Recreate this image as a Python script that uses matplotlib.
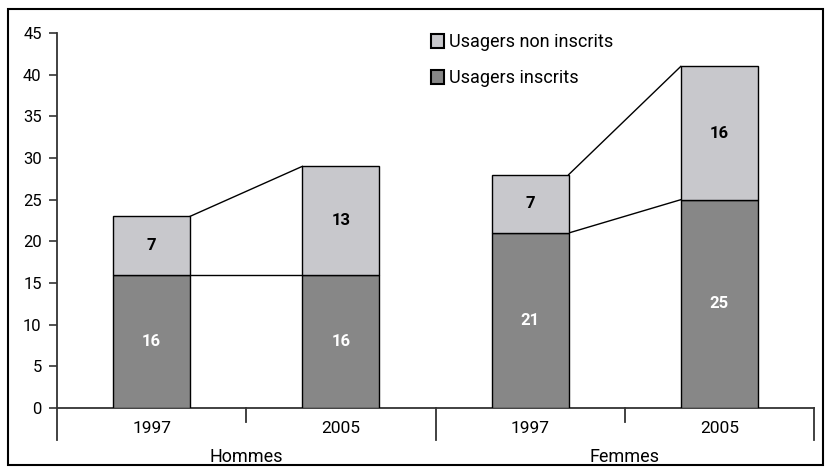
import matplotlib
matplotlib.use("Agg")
import matplotlib.pyplot as plt
from matplotlib.patches import Rectangle
import numpy as np

plt.rcParams['font.family'] = ['Roboto', 'DejaVu Sans']

groups = ["Hommes", "Femmes"]
years = ["1997", "2005", "1997", "2005"]
inscrits = [16, 16, 21, 25]
non_inscrits = [7, 13, 7, 16]
yticks = [0, 5, 10, 15, 20, 25, 30, 35, 40, 45]
legend_labels = ["Usagers non inscrits", "Usagers inscrits"]

dark = "#878787"
light = "#c8c8cc"
axis_col = "#333333"

fig = plt.figure(figsize=(8.31, 4.73), dpi=100)
ax = fig.add_axes([57/831, 1-408/473, (814-57)/831, (408-33)/473])

x = np.arange(len(years)) + 0.5
w = 0.407
ax.bar(x, inscrits, w, color=dark, edgecolor="black", linewidth=1, zorder=3)
ax.bar(x, non_inscrits, w, bottom=inscrits, color=light, edgecolor="black", linewidth=1, zorder=3)

# connector lines between the two years in each group
for g in range(2):
    i, j = 2*g, 2*g+1
    ax.plot([x[i]+w/2, x[j]-w/2], [inscrits[i], inscrits[j]], color="black", lw=1, zorder=2)
    ti = inscrits[i] + non_inscrits[i]
    tj = inscrits[j] + non_inscrits[j]
    ax.plot([x[i]+w/2, x[j]-w/2], [ti, tj], color="black", lw=1, zorder=2)

for xi, a, b in zip(x, inscrits, non_inscrits):
    ax.text(xi, a/2, str(a), ha="center", va="center", color="white", fontsize=12, fontweight="bold", zorder=4)
    ax.text(xi, a + b/2, str(b), ha="center", va="center", color="black", fontsize=12, fontweight="bold", zorder=4)

ax.set_xlim(0, 4)
ax.set_ylim(0, 45)
ax.set_yticks(yticks)
ax.set_yticklabels([str(t) for t in yticks], fontsize=12)
ax.tick_params(axis="y", length=6, width=1.2, color=axis_col, pad=5)
ax.set_xticks([])
for s in ["top", "right"]:
    ax.spines[s].set_visible(False)
for s in ["left", "bottom"]:
    ax.spines[s].set_color(axis_col)
    ax.spines[s].set_linewidth(1.3)

# category ticks below axis
trans = ax.get_xaxis_transform()
def py(pix):
    return -(pix - 408) / 375.0
for xt in [0, 2, 4]:
    ax.plot([xt, xt], [0, py(440)], transform=trans, color=axis_col, lw=1.3, clip_on=False)
for xt in [1, 3]:
    ax.plot([xt, xt], [0, py(422)], transform=trans, color=axis_col, lw=1.3, clip_on=False)
for xi, yr in zip(x, years):
    ax.text(xi, py(428), yr, transform=trans, ha="center", va="center", fontsize=12.5)
for gi, g in enumerate(groups):
    ax.text(1 + 2*gi, py(457), g, transform=trans, ha="center", va="center", fontsize=13)

# legend
fx = lambda p: p/831
fy = lambda p: 1 - p/473
for k, (lab, col) in enumerate(zip(legend_labels, [light, dark])):
    yc = [41, 77][k]
    fig.patches.append(Rectangle((fx(431), fy(yc+7)), 13/831, 14/473, transform=fig.transFigure,
                                 facecolor=col, edgecolor="black", linewidth=1.5))
    fig.text(fx(449), fy(yc+1), lab, ha="left", va="center", fontsize=13)

# figure border
fig.patches.append(Rectangle((fx(8), fy(465)), (823-8)/831, (465-9)/473, transform=fig.transFigure,
                             facecolor="none", edgecolor="black", linewidth=1.5))

fig.savefig("out.png", dpi=100)
